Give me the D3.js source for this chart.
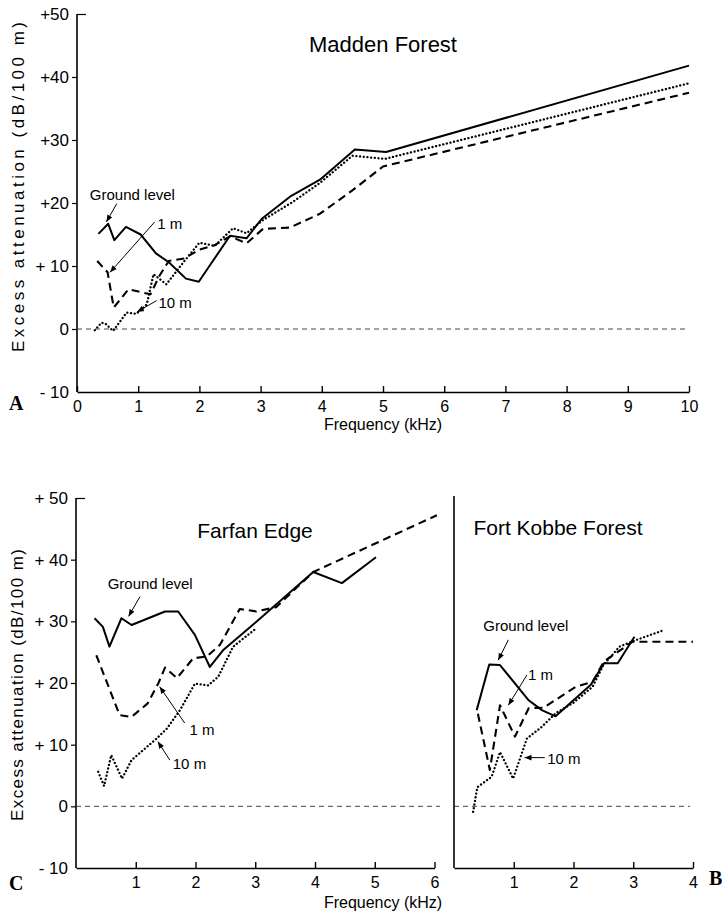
<!DOCTYPE html>
<html><head><meta charset="utf-8">
<script src="https://cdn.jsdelivr.net/npm/d3@7"></script>
<style>
body{margin:0;background:#fff}
svg text{font-family:"Liberation Sans",Arial,sans-serif;fill:#000;white-space:pre}
</style>
</head><body>
<svg id="chart" width="722" height="917"></svg>
<script>
// ---------------- DATA ----------------
// [frequency kHz, excess attenuation dB/100 m]
const maddenGround = [[0.35,15.1],[0.51,16.7],[0.61,14.1],[0.80,16.2],[1.04,15.0],[1.29,12.0],[1.50,10.6],[1.78,8.0],[1.99,7.5],[2.15,9.8],[2.50,14.8],[2.77,14.4],[3.02,17.5],[3.48,21.0],[3.97,23.7],[4.54,28.5],[5.05,28.1],[10.0,41.8]];
const madden1m = [[0.33,10.8],[0.50,9.0],[0.60,3.4],[0.84,6.3],[1.20,5.5],[1.35,8.5],[1.50,10.8],[1.75,11.2],[2.00,12.6],[2.25,13.3],[2.50,14.7],[2.77,13.6],[3.04,15.9],[3.48,16.1],[3.97,18.3],[4.50,22.0],[5.00,25.8],[10.0,37.5]];
const madden10m = [[0.29,-0.2],[0.40,1.0],[0.47,0.8],[0.59,-0.3],[0.81,2.6],[0.97,2.4],[1.14,3.9],[1.25,8.7],[1.46,7.1],[1.74,10.6],[2.00,13.7],[2.25,13.2],[2.55,16.0],[2.77,15.2],[3.04,17.3],[3.53,20.2],[3.97,23.2],[4.50,27.5],[5.03,27.0],[10.0,39.0]];

const farfanGround = [[0.31,30.5],[0.45,29.1],[0.56,25.9],[0.76,30.5],[0.93,29.4],[1.49,31.6],[1.71,31.6],[1.99,27.8],[2.24,22.6],[2.46,25.3],[2.99,29.7],[3.97,38.0],[4.45,36.2],[5.02,40.4]];
const farfan1m = [[0.34,24.5],[0.73,14.8],[0.93,14.5],[1.20,16.7],[1.38,20.0],[1.49,22.5],[1.69,20.8],[1.96,24.0],[2.19,24.3],[2.41,26.2],[2.74,32.0],[3.02,31.6],[3.35,32.3],[3.97,38.0],[6.04,47.2]];
const farfan10m = [[0.37,5.6],[0.47,3.3],[0.59,8.3],[0.77,4.5],[0.93,7.5],[1.35,11.0],[1.52,12.6],[1.74,15.6],[1.99,19.9],[2.21,19.6],[2.38,21.0],[2.63,25.9],[3.02,28.9]];

const kobbeGround = [[0.38,15.6],[0.59,23.0],[0.77,22.9],[1.25,17.2],[1.47,15.6],[1.70,14.6],[2.29,19.7],[2.51,23.2],[2.74,23.2],[3.02,27.5]];
const kobbe1m = [[0.40,15.0],[0.60,5.9],[0.77,16.4],[1.02,11.3],[1.25,15.9],[1.50,16.0],[2.04,19.4],[2.32,20.2],[2.51,23.5],[2.99,26.7],[4.00,26.7]];
const kobbe10m = [[0.32,-0.9],[0.39,3.1],[0.63,4.8],[0.77,8.8],[0.99,4.5],[1.22,11.0],[1.47,12.9],[1.70,15.1],[2.00,16.8],[2.32,19.4],[2.50,22.9],[2.77,25.9],[3.00,26.8],[3.52,28.6]];

const yTickValues = [-10,0,10,20,30,40,50];
const yTickLabelsA = ["- 10","0","+ 10","+20","+30","+40","+50"];
const yTickLabelsC = ["- 10","0","+ 10","+ 20","+ 30","+ 40","+ 50"];
const xTicksA = [0,1,2,3,4,5,6,7,8,9,10];
const xTicksC = [1,2,3,4,5,6];
const xTicksB = [1,2,3,4];

const titles = {A:"Madden Forest", C:"Farfan Edge", B:"Fort Kobbe Forest"};
const seriesNames = ["Ground level","1 m","10 m"];
const yLabel = "Excess attenuation (dB/100 m)";
const xLabel = "Frequency (kHz)";

// ---------------- DRAW ----------------
const svg = d3.select("#chart");
const defs = svg.append("defs");
defs.append("marker").attr("id","ah").attr("viewBox","0 0 10 10").attr("refX",10).attr("refY",5)
  .attr("markerWidth",7).attr("markerHeight",7).attr("markerUnits","userSpaceOnUse").attr("orient","auto")
  .append("path").attr("d","M0,1 L10,5 L0,9 Z").attr("fill","#000");

const styles = [
  {dash:null, w:2},
  {dash:"8,5", w:2.1},
  {dash:"0.1,3.6", w:2.3, cap:"round"}
];

function panel(cfg){
  const x = d3.scaleLinear().domain(cfg.xDomain).range(cfg.xRange);
  const y = d3.scaleLinear().domain([-10,50]).range(cfg.yRange);
  const g = svg.append("g");

  // x axis (ticks pointing up)
  const xa = g.append("g").attr("transform",`translate(0,${y(-10)})`)
    .call(d3.axisBottom(x).tickValues(cfg.xTicks).tickSize(-6).tickSizeOuter(0).tickPadding(9).tickFormat(d3.format("d")));
  xa.select(".domain").attr("stroke","#000").attr("stroke-width",1.6);
  xa.selectAll(".tick line").attr("stroke","#000").attr("stroke-width",1.4);
  xa.selectAll(".tick text").attr("font-size",16).attr("font-family","Liberation Sans, Arial, sans-serif");

  // y axis
  const ya = g.append("g").attr("transform",`translate(${x(0)},0)`)
    .call(d3.axisLeft(y).tickValues(cfg.yLabels ? yTickValues : []).tickSize(5).tickSizeOuter(0).tickPadding(3)
      .tickFormat((d,i)=>cfg.yLabels ? cfg.yLabels[i] : ""));
  ya.select(".domain").attr("stroke","#000").attr("stroke-width",1.6)
    .attr("d",`M0,${y(-10)}V${cfg.yTop}`);
  ya.selectAll(".tick line").attr("stroke","#000").attr("stroke-width",1.2);
  ya.selectAll(".tick").filter(d=>d===50).select("line").attr("x2",9);
  ya.selectAll(".tick").filter(d=>d===-10).select("line").remove();
  ya.selectAll(".tick text").attr("font-size",17).attr("font-family","Liberation Sans, Arial, sans-serif");

  // zero reference line
  g.append("line").attr("x1",x(0)).attr("x2",cfg.zeroEnd).attr("y1",y(0)).attr("y2",y(0))
    .attr("stroke","#333").attr("stroke-width",0.9).attr("stroke-dasharray","5,4");

  // series
  const line = d3.line().x(d=>x(d[0])).y(d=>y(d[1]));
  cfg.series.forEach((s,i)=>{
    const st = styles[i];
    g.append("path").datum(s).attr("d",line).attr("fill","none").attr("stroke","#000")
      .attr("stroke-width",st.w).attr("stroke-dasharray",st.dash).attr("stroke-linecap",st.cap||"butt")
      .attr("stroke-linejoin","round");
  });

  // annotations (data coordinates)
  cfg.notes.forEach((n,i)=>{
    g.append("text").attr("x",x(n.t[0])).attr("y",y(n.t[1])).attr("font-size",15).text(seriesNames[i]);
    g.append("line").attr("x1",x(n.a[0])).attr("y1",y(n.a[1])).attr("x2",x(n.a[2])).attr("y2",y(n.a[3]))
      .attr("stroke","#000").attr("stroke-width",1).attr("marker-end","url(#ah)");
  });

  // title
  g.append("text").attr("x",cfg.title[0]).attr("y",cfg.title[1]).attr("font-size",cfg.title[3])
    .attr("text-anchor","middle").text(cfg.title[2]);
  return {x,y,g};
}

panel({
  xDomain:[0,10], xRange:[77,689], yRange:[392,14], yTop:14, xTicks:xTicksA, yLabels:yTickLabelsA,
  zeroEnd:689, series:[maddenGround,madden1m,madden10m],
  notes:[
    {t:[0.21,20.4], a:[0.65,19.9,0.48,17.0]},
    {t:[1.31,15.9], a:[1.27,17.0,0.54,9.0]},
    {t:[1.33,3.3],  a:[1.30,4.5,0.98,2.7]}
  ],
  title:[383,52,titles.A,22]
});

panel({
  xDomain:[0,6], xRange:[76,434.5], yRange:[868,498], yTop:498, xTicks:xTicksC, yLabels:yTickLabelsC,
  zeroEnd:440, series:[farfanGround,farfan1m,farfan10m],
  notes:[
    {t:[0.53,35.3], a:[1.07,34.0,0.88,30.8]},
    {t:[1.90,11.6], a:[1.82,13.5,1.40,19.4]},
    {t:[1.62,6.1],  a:[1.57,7.5,1.37,10.5]}
  ],
  title:[255,538,titles.C,21]
});

panel({
  xDomain:[0,4], xRange:[454,693], yRange:[868,498], yTop:496, xTicks:xTicksB, yLabels:null,
  zeroEnd:690, series:[kobbeGround,kobbe1m,kobbe10m],
  notes:[
    {t:[0.49,28.4], a:[0.91,27.0,0.74,23.7]},
    {t:[1.24,20.5], a:[1.22,21.3,0.91,16.4]},
    {t:[1.56,6.8],  a:[1.52,7.9,1.18,7.9]}
  ],
  title:[558,535,titles.B,21]
});

// axis labels
function yLab(cx,cy,len){
  svg.append("text").attr("transform",`translate(${cx},${cy}) rotate(-90)`).attr("text-anchor","middle")
    .attr("font-size",17).attr("textLength",len).attr("lengthAdjust","spacing").text(yLabel);
}
yLab(24,187,330);
yLab(23,685,272);
svg.append("text").attr("x",383).attr("y",430).attr("text-anchor","middle").attr("font-size",16).text(xLabel);
svg.append("text").attr("x",383).attr("y",908).attr("text-anchor","middle").attr("font-size",16).text(xLabel);

// panel letters
[["A",9,410],["C",9,890],["B",709,885]].forEach(p=>{
  svg.append("text").attr("x",p[1]).attr("y",p[2]).attr("font-size",20).attr("font-weight","bold")
    .style("font-family","'Liberation Serif','DejaVu Serif',serif").text(p[0]);
});
</script>
</body></html>
